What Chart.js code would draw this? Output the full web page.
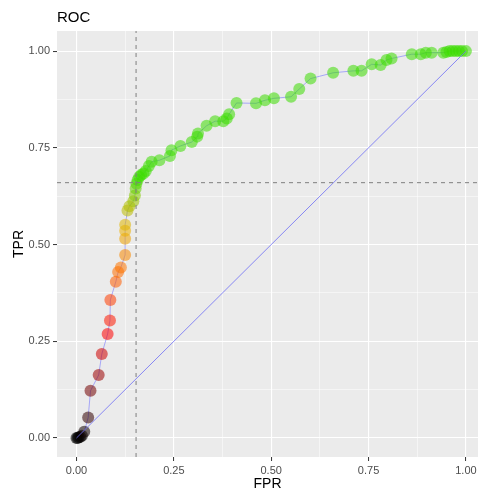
<!DOCTYPE html>
<html>
<head>
<meta charset="utf-8">
<script src="https://cdn.jsdelivr.net/npm/chart.js@4"></script>
<style>
    html, body { margin: 0; padding: 0; background: #ffffff; overflow: hidden; }
    #wrap { position: absolute; left: 0; top: 0; width: 478px; height: 491px; }
</style>
</head>
<body>
<div id="wrap"><canvas id="mainChart"></canvas></div>
<script>
// ROC curve points
const FPR = [0, 0.003, 0.006, 0.010, 0.014, 0.020, 0.030, 0.036, 0.057, 0.065,
    0.080, 0.086, 0.087, 0.101, 0.107, 0.114, 0.125, 0.125, 0.125, 0.125,
    0.131, 0.136, 0.146, 0.150, 0.152, 0.154, 0.157, 0.161, 0.166, 0.172,
    0.178, 0.186, 0.193, 0.213, 0.240, 0.244, 0.267, 0.296, 0.310, 0.312,
    0.334, 0.356, 0.377, 0.386, 0.392, 0.411, 0.461, 0.484, 0.507, 0.551,
    0.572, 0.601, 0.659, 0.711, 0.732, 0.758, 0.781, 0.796, 0.809, 0.861,
    0.884, 0.897, 0.912, 0.942, 0.950, 0.958, 0.966, 0.974, 0.982, 0.990, 1];
const TPR = [0, 0, 0.002, 0.003, 0.006, 0.016, 0.053, 0.122, 0.163, 0.217,
    0.269, 0.304, 0.357, 0.404, 0.429, 0.441, 0.473, 0.515, 0.536, 0.551,
    0.588, 0.599, 0.612, 0.627, 0.645, 0.657, 0.667, 0.675, 0.680, 0.684,
    0.690, 0.703, 0.714, 0.718, 0.729, 0.744, 0.755, 0.765, 0.779, 0.787,
    0.807, 0.819, 0.819, 0.826, 0.837, 0.866, 0.865, 0.873, 0.878, 0.882,
    0.902, 0.929, 0.944, 0.949, 0.949, 0.966, 0.964, 0.977, 0.981, 0.992,
    0.992, 0.996, 0.996, 0.996, 0.998, 1, 1, 1, 1, 1, 1];
const CHANCE_X = [0, 1];
const CHANCE_Y = [0, 1];
const CUT_FPR = 0.153;
const CUT_TPR = 0.66;
const TICKS = [0, 0.25, 0.5, 0.75, 1];
const MINOR_TICKS = [0.125, 0.375, 0.625, 0.875];

const X_MIN = -0.05, X_MAX = 1.031;
const Y_MIN = -0.049, Y_MAX = 1.052;

// colour ramp along the curve (style only)
const RAMP = [
    [0.00, [0, 0, 0]],
    [0.27, [255, 0, 0]],
    [0.43, [255, 110, 0]],
    [0.54, [235, 180, 0]],
    [0.60, [175, 190, 0]],
    [0.67, [60, 220, 0]],
    [1.00, [60, 220, 0]]
];

function rampColor(v, alpha) {
    for (let i = 1; i < RAMP.length; i++) {
        if (v <= RAMP[i][0]) {
            const a = RAMP[i - 1], b = RAMP[i];
            const t = (v - a[0]) / (b[0] - a[0]);
            const c = a[1].map((x, k) => Math.round(x + (b[1][k] - x) * t));
            return `rgba(${c[0]},${c[1]},${c[2]},${alpha})`;
        }
    }
    const c = RAMP[RAMP.length - 1][1];
    return `rgba(${c[0]},${c[1]},${c[2]},${alpha})`;
}

function toPoints(xs, ys) {
    return xs.map((x, i) => ({ x: x, y: ys[i] }));
}

const panelBg = {
    id: 'panelBg',
    beforeDraw(chart) {
        const { ctx, chartArea: a } = chart;
        ctx.save();
        ctx.fillStyle = '#EBEBEB';
        ctx.fillRect(a.left, a.top, a.right - a.left, a.bottom - a.top);
        ctx.restore();
    }
};

function axisOpts(min, max, title) {
    const isMajor = (v) => TICKS.some(t => Math.abs(t - v) < 1e-9);
    return {
        type: 'linear',
        min: min,
        max: max,
        afterBuildTicks: (scale) => {
            scale.ticks = TICKS.concat(MINOR_TICKS).sort((a, b) => a - b).map(v => ({ value: v }));
        },
        border: { display: false },
        grid: {
            color: '#FFFFFF',
            lineWidth: (c) => (c.tick && isMajor(c.tick.value) ? 1.1 : 0.5),
            tickColor: (c) => (c.tick && isMajor(c.tick.value) ? '#333333' : 'rgba(0,0,0,0)'),
            tickLength: 4,
            tickWidth: 1
        },
        ticks: {
            color: '#4D4D4D',
            font: { family: 'Liberation Sans', size: 11 },
            padding: 3,
            autoSkip: false,
            maxRotation: 0,
            callback: (v) => (isMajor(v) ? v.toFixed(2) : '')
        },
        title: {
            display: true,
            text: title,
            color: '#000000',
            font: { family: 'Liberation Sans', size: 14, lineHeight: 1 }
        }
    };
}

function createChart() {
    const CTX = document.getElementById('mainChart').getContext('2d');
    const xOpts = axisOpts(X_MIN, X_MAX, 'FPR');
    xOpts.title.padding = { top: 0, bottom: 0 };
    xOpts.afterFit = (scale) => {
        scale.height = 34;
        scale.paddingLeft = 0;
        scale.paddingRight = 0;
    };
    const yOpts = axisOpts(Y_MIN, Y_MAX, 'TPR');
    yOpts.title.padding = { top: 12, bottom: 0 };
    yOpts.afterFit = (scale) => {
        scale.width = 57;
        scale.paddingTop = 0;
        scale.paddingBottom = 0;
    };

    return new Chart(CTX, {
        type: 'scatter',
        data: {
            datasets: [
                {
                    label: 'cut fpr',
                    data: [{ x: CUT_FPR, y: Y_MIN }, { x: CUT_FPR, y: Y_MAX }],
                    showLine: true,
                    borderColor: '#7F7F7F',
                    borderWidth: 1,
                    borderDash: [4, 4],
                    pointRadius: 0
                },
                {
                    label: 'cut tpr',
                    data: [{ x: X_MIN, y: CUT_TPR }, { x: X_MAX, y: CUT_TPR }],
                    showLine: true,
                    borderColor: '#7F7F7F',
                    borderWidth: 1,
                    borderDash: [4, 4],
                    pointRadius: 0
                },
                {
                    label: 'chance',
                    data: toPoints(CHANCE_X, CHANCE_Y),
                    showLine: true,
                    borderColor: 'rgba(110,110,245,0.8)',
                    borderWidth: 1,
                    pointRadius: 0
                },
                {
                    label: 'ROC',
                    data: toPoints(FPR, TPR),
                    showLine: true,
                    borderColor: 'rgba(110,110,255,0.55)',
                    borderWidth: 1,
                    pointRadius: 6,
                    pointBorderWidth: 0,
                    pointBackgroundColor: TPR.map(v => rampColor(v, 0.55))
                }
            ]
        },
        options: {
            responsive: true,
            maintainAspectRatio: false,
            animation: false,
            layout: { padding: 0, autoPadding: false },
            scales: { x: xOpts, y: yOpts },
            plugins: {
                legend: { display: false },
                tooltip: { enabled: false },
                title: {
                    display: true,
                    text: 'ROC',
                    align: 'start',
                    fullSize: false,
                    color: '#000000',
                    font: { family: 'Liberation Sans', size: 15, weight: 'normal', lineHeight: 1 },
                    padding: { top: 10, bottom: 6 }
                }
            }
        },
        plugins: [panelBg]
    });
}

createChart();
</script>
</body>
</html>
